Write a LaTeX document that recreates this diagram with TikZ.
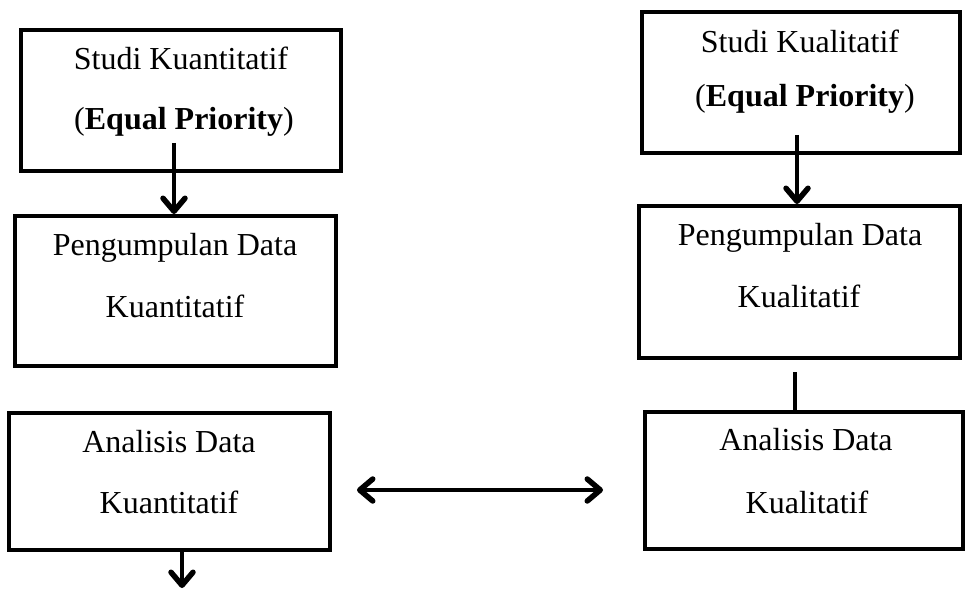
\documentclass[tikz,border=0pt]{standalone}
\usepackage{fontspec}
\setmainfont{Liberation Serif}
\usetikzlibrary{arrows.meta}
\begin{document}
\begin{tikzpicture}[x=1pt,y=-1pt,
  box/.style={draw,line width=4pt,rectangle,inner sep=0pt},
  txt/.style={anchor=base,inner sep=0pt,font=\fontsize{32}{38}\selectfont},
  conn/.style={line width=4pt},
  barb/.tip={Straight Barb[length=13pt,width=22pt,line width=5.5pt,line cap=round,line join=round]},
  arr/.style={conn,-barb},
  darr/.style={conn,barb-barb}]
\useasboundingbox (0,0) rectangle (966,591);
% left column
\node[box,minimum width=320pt,minimum height=141pt] (b1) at (181,100.5) {};
\node[txt] (b1a) at (181,70) {Studi Kuantitatif};
\node[txt] (b1b) at (184,130) {(\textbf{Equal Priority})};
\node[box,minimum width=321pt,minimum height=150pt] (b2) at (175.5,291) {};
\node[txt] (b2a) at (175,255) {Pengumpulan Data};
\node[txt] (b2b) at (175,317) {Kuantitatif};
\node[box,minimum width=321pt,minimum height=137pt] (b3) at (169.5,481.5) {};
\node[txt] (b3a) at (169,452) {Analisis Data};
\node[txt] (b3b) at (169,513) {Kuantitatif};
% right column
\node[box,minimum width=318pt,minimum height=141pt] (r1) at (801,82.5) {};
\node[txt] (r1a) at (800,53) {Studi Kualitatif};
\node[txt] (r1b) at (805,107) {(\textbf{Equal Priority})};
\node[box,minimum width=321pt,minimum height=152pt] (r2) at (799.5,282) {};
\node[txt] (r2a) at (800,245) {Pengumpulan Data};
\node[txt] (r2b) at (799,307) {Kualitatif};
\node[box,minimum width=318pt,minimum height=137pt] (r3) at (804,480.5) {};
\node[txt] (r3a) at (806,450) {Analisis Data};
\node[txt] (r3b) at (807,513) {Kualitatif};
% connector points
\coordinate (s1) at (174,143);
\coordinate (s2) at (797,135);
\coordinate (s3) at (795,372);
\coordinate (e4) at (182,588);
\coordinate (dl) at (357,490);
\coordinate (dr) at (603,490);
% connectors
\draw[arr] (s1) -- (s1 |- b2.north);
\draw[arr] (s2) -- (s2 |- r2.north);
\draw[conn] (s3) -- (s3 |- r3.north);
\draw[arr] (e4 |- b3.south) -- (e4);
\draw[darr] (dl) -- (dr);
\end{tikzpicture}
\end{document}
